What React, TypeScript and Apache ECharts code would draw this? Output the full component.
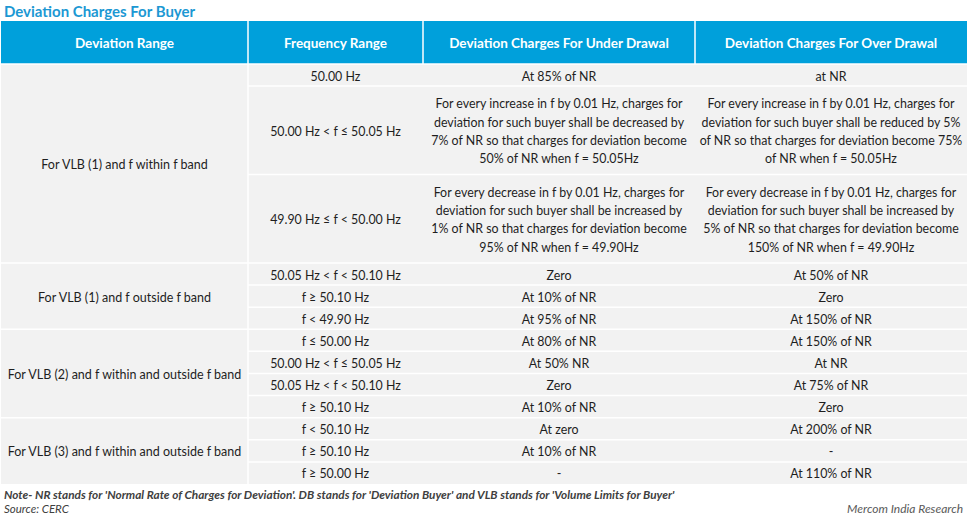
import React, { useEffect, useRef } from "react";
import * as echarts from "echarts";

const titleText = "Deviation Charges For Buyer";
const columnHeaders = [
  "Deviation Range",
  "Frequency Range",
  "Deviation Charges For Under Drawal",
  "Deviation Charges For Over Drawal",
];
const deviationRanges = [
  "For VLB (1) and f within f band",
  "For VLB (1) and f outside f band",
  "For VLB (2) and f within and outside f band",
  "For VLB (3) and f within and outside f band",
];
const rangeRowCounts = [3, 3, 4, 3];
const frequencyRanges = [
  "50.00 Hz",
  "50.00 Hz < f ≤ 50.05 Hz",
  "49.90 Hz ≤ f < 50.00 Hz",
  "50.05 Hz < f < 50.10 Hz",
  "f ≥ 50.10 Hz",
  "f < 49.90 Hz",
  "f ≤ 50.00 Hz",
  "50.00 Hz < f ≤ 50.05 Hz",
  "50.05 Hz < f < 50.10 Hz",
  "f ≥ 50.10 Hz",
  "f < 50.10 Hz",
  "f ≥ 50.10 Hz",
  "f ≥ 50.00 Hz",
];
const underDrawalCharges = [
  "At 85% of NR",
  "For every increase in f by 0.01 Hz, charges for\ndeviation for such buyer shall be decreased by\n7% of NR so that charges for deviation become\n50% of NR when f = 50.05Hz",
  "For every decrease in f by 0.01 Hz, charges for\ndeviation for such buyer shall be increased by\n1% of NR so that charges for deviation become\n95% of NR when f = 49.90Hz",
  "Zero",
  "At 10% of NR",
  "At 95% of NR",
  "At 80% of NR",
  "At 50% NR",
  "Zero",
  "At 10% of NR",
  "At zero",
  "At 10% of NR",
  "-",
];
const overDrawalCharges = [
  "at NR",
  "For every increase in f by 0.01 Hz, charges for\ndeviation for such buyer shall be reduced by 5%\nof NR so that charges for deviation become 75%\nof NR when f = 50.05Hz",
  "For every decrease in f by 0.01 Hz, charges for\ndeviation for such buyer shall be increased by\n5% of NR so that charges for deviation become\n150% of NR when f = 49.90Hz",
  "At 50% of NR",
  "Zero",
  "At 150% of NR",
  "At 150% of NR",
  "At NR",
  "At 75% of NR",
  "Zero",
  "At 200% of NR",
  "-",
  "At 110% of NR",
];
const noteText =
  "Note- NR stands for 'Normal Rate of Charges for Deviation'. DB stands for 'Deviation Buyer' and VLB stands for 'Volume Limits for Buyer'";
const sourceText = "Source: CERC";
const creditText = "Mercom India Research";

const FONT = "Lato, 'Open Sans', sans-serif";
const BLUE = "#00A0DB";
const CELL = "#F2F2F2";
const TXT = "#1E1E1E";

function buildGraphic() {
  const colX = [1, 248, 423, 695, 967];
  const tableTop = 21;
  const bodyTop = 64;
  const bodyBottom = 484;
  const lineCounts = underDrawalCharges.map((u, i) =>
    Math.max(u.split("\n").length, overDrawalCharges[i].split("\n").length)
  );
  const totalUnits = lineCounts.reduce((a, b) => a + b, 0);
  const unit = (bodyBottom - bodyTop) / totalUnits;
  const els: any[] = [];

  els.push({
    type: "text",
    style: { text: titleText, x: 4, y: 11, verticalAlign: "middle", fontFamily: FONT, fontWeight: "bold", fontSize: 15, fill: "#1C98D3" },
  });
  els.push({ type: "rect", shape: { x: colX[0], y: tableTop, width: colX[4] - colX[0], height: bodyTop - tableTop }, style: { fill: BLUE } });
  els.push({ type: "rect", shape: { x: colX[0], y: bodyTop, width: colX[4] - colX[0], height: bodyBottom - bodyTop }, style: { fill: CELL } });

  columnHeaders.forEach((h, c) => {
    els.push({
      type: "text",
      style: { text: h, x: (colX[c] + colX[c + 1]) / 2, y: (tableTop + bodyTop) / 2, align: "center", verticalAlign: "middle", fontFamily: FONT, fontWeight: "bold", fontSize: 13.5, fill: "#FFFFFF" },
    });
    if (c > 0) {
      els.push({ type: "line", shape: { x1: colX[c], y1: tableTop, x2: colX[c], y2: bodyTop }, style: { stroke: "#FFFFFF", lineWidth: 1.5 } });
    }
  });
  els.push({ type: "line", shape: { x1: colX[0], y1: bodyTop, x2: colX[4], y2: bodyTop }, style: { stroke: "#FFFFFF", lineWidth: 1.5 } });
  els.push({ type: "line", shape: { x1: colX[1], y1: bodyTop, x2: colX[1], y2: bodyBottom }, style: { stroke: "#FFFFFF", lineWidth: 1.5 } });

  const rowTops: number[] = [];
  let y = bodyTop;
  lineCounts.forEach((n) => {
    rowTops.push(y);
    y += n * unit;
  });
  rowTops.push(y);

  const groupStarts = new Set<number>();
  let gi = 0;
  rangeRowCounts.forEach((cnt, g) => {
    groupStarts.add(gi);
    const yTop = rowTops[gi];
    const yBot = rowTops[gi + cnt];
    els.push({
      type: "text",
      style: { text: deviationRanges[g], x: (colX[0] + colX[1]) / 2, y: (yTop + yBot) / 2 + 1, align: "center", verticalAlign: "middle", fontFamily: FONT, fontSize: 12.5, fill: TXT },
    });
    gi += cnt;
  });

  frequencyRanges.forEach((f, r) => {
    const yTop = rowTops[r];
    const yBot = rowTops[r + 1];
    const cy = (yTop + yBot) / 2 + 1;
    if (r > 0) {
      const x1 = groupStarts.has(r) ? colX[0] : colX[1];
      els.push({ type: "line", shape: { x1, y1: yTop, x2: colX[4], y2: yTop }, style: { stroke: "#FFFFFF", lineWidth: 1.5 } });
    }
    [f, underDrawalCharges[r], overDrawalCharges[r]].forEach((t, k) => {
      els.push({
        type: "text",
        style: { text: t, x: (colX[k + 1] + colX[k + 2]) / 2, y: cy, align: "center", verticalAlign: "middle", fontFamily: FONT, fontSize: 12.4, lineHeight: 18.3, fill: TXT },
      });
    });
  });

  els.push({
    type: "text",
    style: { text: noteText, x: 4, y: 494, verticalAlign: "middle", fontFamily: FONT, fontStyle: "italic", fontWeight: "bold", fontSize: 11.8, fill: "#404040" },
  });
  els.push({
    type: "text",
    style: { text: sourceText, x: 4, y: 508, verticalAlign: "middle", fontFamily: FONT, fontStyle: "italic", fontSize: 11.5, fill: "#404040" },
  });
  els.push({
    type: "text",
    style: { text: creditText, x: 963, y: 508, align: "right", verticalAlign: "middle", fontFamily: FONT, fontStyle: "italic", fontSize: 12, fill: "#595959" },
  });
  return els;
}

export default function App() {
  const ref = useRef<HTMLDivElement>(null);
  useEffect(() => {
    if (!ref.current) return;
    const chart = echarts.init(ref.current, null, { renderer: "svg" });
    chart.setOption({
      animation: false,
      backgroundColor: "#FFFFFF",
      graphic: { elements: buildGraphic() },
    });
    return () => chart.dispose();
  }, []);
  return (
    <div
      ref={ref}
      style={{ position: "absolute", left: 0, top: 0, width: 967, height: 516 }}
    />
  );
}
